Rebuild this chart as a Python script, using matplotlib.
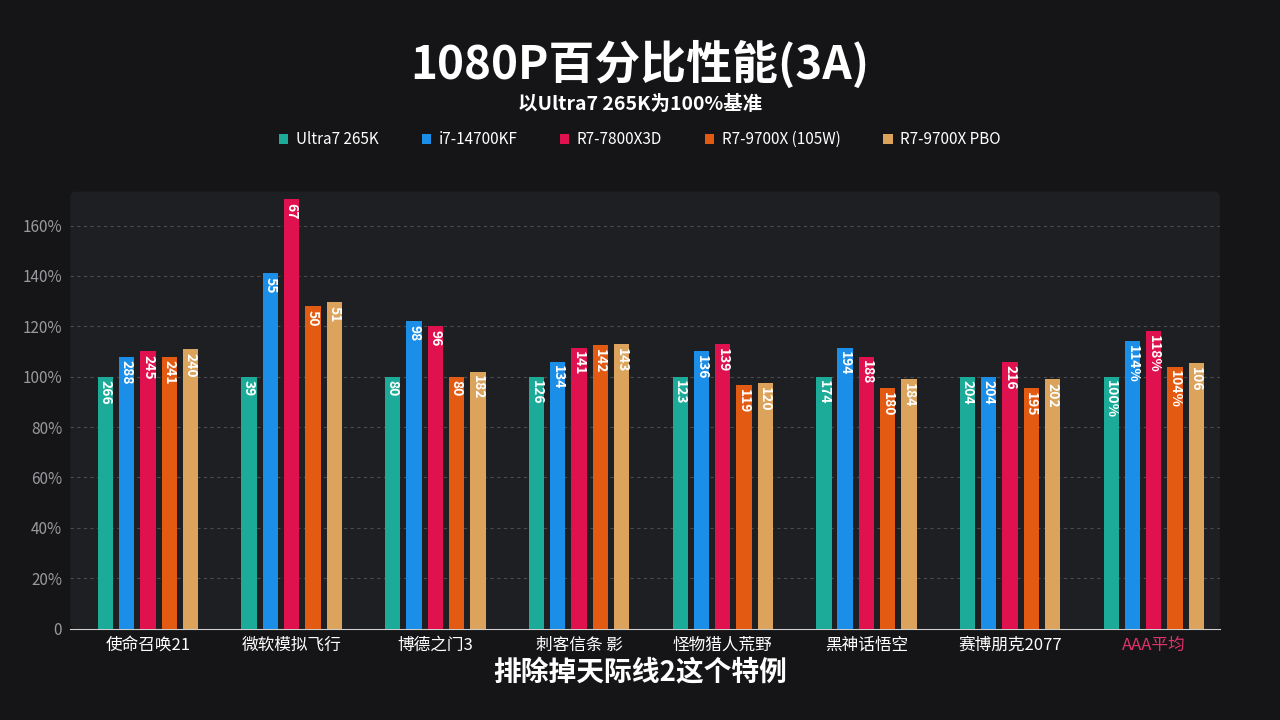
import numpy as np
import matplotlib.pyplot as plt
from matplotlib.patches import FancyBboxPatch

plt.rcParams['font.family'] = ['Noto Sans CJK SC', 'DejaVu Sans']

games = ['使命召唤21', '微软模拟飞行', '博德之门3', '刺客信条 影', '怪物猎人荒野',
         '黑神话悟空', '赛博朋克2077', 'AAA平均']
cpus = ['Ultra7 265K', 'i7-14700KF', 'R7-7800X3D', 'R7-9700X (105W)', 'R7-9700X PBO']
colors = ['#1bab98', '#1b8ee8', '#e0114f', '#e35b12', '#dba35c']

# relative performance (%), per cpu across games
ultra7 = [100, 100, 100, 100, 100, 100, 100, 100]
i7 = [108, 141, 122, 106, 110, 111.5, 100, 114]
x3d = [110, 170.5, 120, 111.5, 113, 108, 106, 118]
r9700 = [108, 128, 100, 112.5, 96.5, 95.5, 95.5, 104]
pbo = [111, 129.5, 102, 113, 97.5, 99, 99, 105.5]

# fps labels printed on bars
lab_ultra7 = ['266', '39', '80', '126', '123', '174', '204', '100%']
lab_i7 = ['288', '55', '98', '134', '136', '194', '204', '114%']
lab_x3d = ['245', '67', '96', '141', '139', '188', '216', '118%']
lab_r9700 = ['241', '50', '80', '142', '119', '180', '195', '104%']
lab_pbo = ['240', '51', '182', '143', '120', '184', '202', '106']

values = [ultra7, i7, x3d, r9700, pbo]
labels = [lab_ultra7, lab_i7, lab_x3d, lab_r9700, lab_pbo]

fig = plt.figure(figsize=(12.8, 7.2), dpi=100, facecolor='#151517')
ax = fig.add_axes([0.055, 0.127, 0.898, 0.607])
ax.set_facecolor('none')
panel = FancyBboxPatch((0.055, 0.127), 0.898, 0.607, boxstyle='round,pad=0,rounding_size=0.006',
                       transform=fig.transFigure, facecolor='#1e1f22', edgecolor='none', zorder=-10)
fig.patches.append(panel)

x = np.arange(len(games))
w = 0.148
for i in range(5):
    pos = x + (i - 2) * w + 0.04
    ax.bar(pos, values[i], width=w * 0.72, color=colors[i], label=cpus[i], zorder=3)
    for p, v, t in zip(pos, values[i], labels[i]):
        ax.text(p, v - 1.5, t, rotation=-90, ha='center', va='top', color='white',
                fontsize=10, fontweight='bold', zorder=4)

ax.set_xlim(-0.5, len(games) - 0.5)
ax.set_ylim(0, 173.5)
ax.set_yticks(range(0, 161, 20))
ax.set_yticklabels(['0'] + [f'{v}%' for v in range(20, 161, 20)])
ax.yaxis.grid(True, color='#4a4a4e', linestyle=(0, (3, 3)), linewidth=0.8, zorder=1)
ax.set_axisbelow(True)
ax.tick_params(axis='y', colors='#9a9a9e', labelsize=11, length=0, pad=6)
ax.tick_params(axis='x', colors='white', labelsize=12, length=0, pad=6)
ax.set_xticks(x + 0.04)
ax.set_xticklabels(games)
ax.get_xticklabels()[-1].set_color('#e0336a')
for s in ['top', 'right', 'left']:
    ax.spines[s].set_visible(False)
ax.spines['bottom'].set_color('#cfcfcf')

fig.text(0.5, 0.91, '1080P百分比性能(3A)', ha='center', va='center', color='white',
         fontsize=33, fontweight='black')
fig.text(0.5, 0.855, '以Ultra7 265K为100%基准', ha='center', va='center', color='white',
         fontsize=14, fontweight='bold')
fig.legend(loc='center', bbox_to_anchor=(0.5, 0.806), ncol=5, frameon=False,
           labelcolor='white', fontsize=11, handlelength=0.6, handleheight=0.6,
           columnspacing=2.8, handletextpad=0.5)
fig.text(0.5, 0.065, '排除掉天际线2这个特例', ha='center', va='center', color='white',
         fontsize=20, fontweight='bold')

fig.savefig('out.png', dpi=100, facecolor=fig.get_facecolor())
